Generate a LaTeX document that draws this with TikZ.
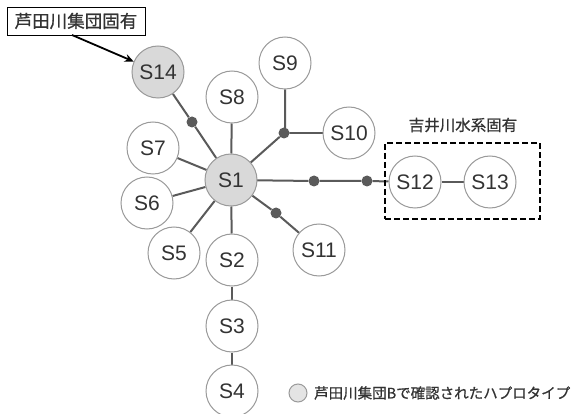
\documentclass[tikz,border=0pt]{standalone}
\usepackage{fontspec}
\setmainfont{Liberation Sans}
\newfontfamily\jp{Noto Sans CJK JP}[FakeBold=0.9]
\usetikzlibrary{arrows.meta,backgrounds}
\definecolor{txt}{HTML}{333333}
\definecolor{edgec}{HTML}{5A5A5A}
\definecolor{rim}{HTML}{9A9A9A}
\definecolor{shade}{HTML}{D9D9D9}
\begin{document}
\begin{tikzpicture}[x=1pt,y=-1pt,
  hap/.style={circle,draw=rim,line width=1pt,fill=white,minimum size=52pt,inner sep=0pt,
    font=\fontsize{21}{21}\selectfont,text=txt},
  grey/.style={hap,fill=shade},
  dotn/.style={circle,fill=edgec,minimum size=11pt,inner sep=0pt},
  link/.style={draw=edgec,line width=2pt},
  jplabel/.style={font=\jp\fontsize{15}{15}\selectfont,text=txt,inner sep=0pt}]
\useasboundingbox (0,0) rectangle (573,414);
% nodes
\node[grey] (S1) at (231,180) {S1};
\node[grey] (S14) at (158,72) {S14};
\node[hap] (S8) at (232,97) {S8};
\node[hap] (S9) at (285,63) {S9};
\node[hap] (S10) at (349,133) {S10};
\node[hap] (S7) at (153,148) {S7};
\node[hap] (S6) at (147,203) {S6};
\node[hap] (S5) at (174,253) {S5};
\node[hap] (S2) at (232,260) {S2};
\node[hap] (S3) at (232,326) {S3};
\node[hap] (S4) at (232,391) {S4};
\node[hap] (S11) at (319,250) {S11};
\node[hap] (S12) at (415,182) {S12};
\node[hap] (S13) at (490,182) {S13};
% junction dots
\node[dotn] (d14) at (192,122) {};
\node[dotn] (dj) at (284,133) {};
\node[dotn] (d11) at (276,213) {};
\node[dotn] (da) at (314,181) {};
\node[dotn] (db) at (367,181) {};
% connectors
\begin{scope}[on background layer]
\draw[link] (S1) -- (d14) -- (S14);
\draw[link] (S1) -- (S8);
\draw[link] (S1) -- (dj) -- (S9 |- dj) -- (S9);
\draw[link] (dj) -- (S10);
\draw[link] (S1) -- (S7);
\draw[link] (S1) -- (S6);
\draw[link] (S1) -- (S5);
\draw[link] (S1) -- (S2);
\draw[link] (S2) -- (S3);
\draw[link] (S3) -- (S4);
\draw[link] (S1) -- (d11) -- (S11);
\draw[link] (S1.center) -- (da) -- (db) -- (S12);
\draw[link] (S12) -- (S13);
\end{scope}
% dashed group box
\node[draw=black,line width=2.3pt,dash pattern=on 6pt off 3pt,minimum width=155pt,minimum height=76pt,inner sep=0pt] (grp) at (462.5,181) {};
\node[jplabel,font=\jp\fontsize{15.5}{15.5}\selectfont] (glabel) at (463,125) {吉井川水系固有};
% top-left label and arrow
\node[draw=black,line width=0.8pt,fill=white,minimum width=138pt,minimum height=28pt,inner sep=0pt,
  font=\jp\fontsize{17.5}{17.5}\selectfont,text=txt] (note) at (76,21) {芦田川集団固有};
\coordinate (astart) at (72,35);
\draw[line width=1.8pt,black,-{Stealth[length=9pt,width=8pt]}] (astart) -- (S14);
% legend
\node[circle,draw=rim,line width=1pt,fill=shade!70,minimum size=18pt,inner sep=0pt] (lg) at (298,393) {};
\node[jplabel,anchor=west,font=\jp\fontsize{14.5}{14.5}\selectfont] (lgtext) at (314,393) {芦田川集団Bで確認されたハプロタイプ};
\end{tikzpicture}
\end{document}
